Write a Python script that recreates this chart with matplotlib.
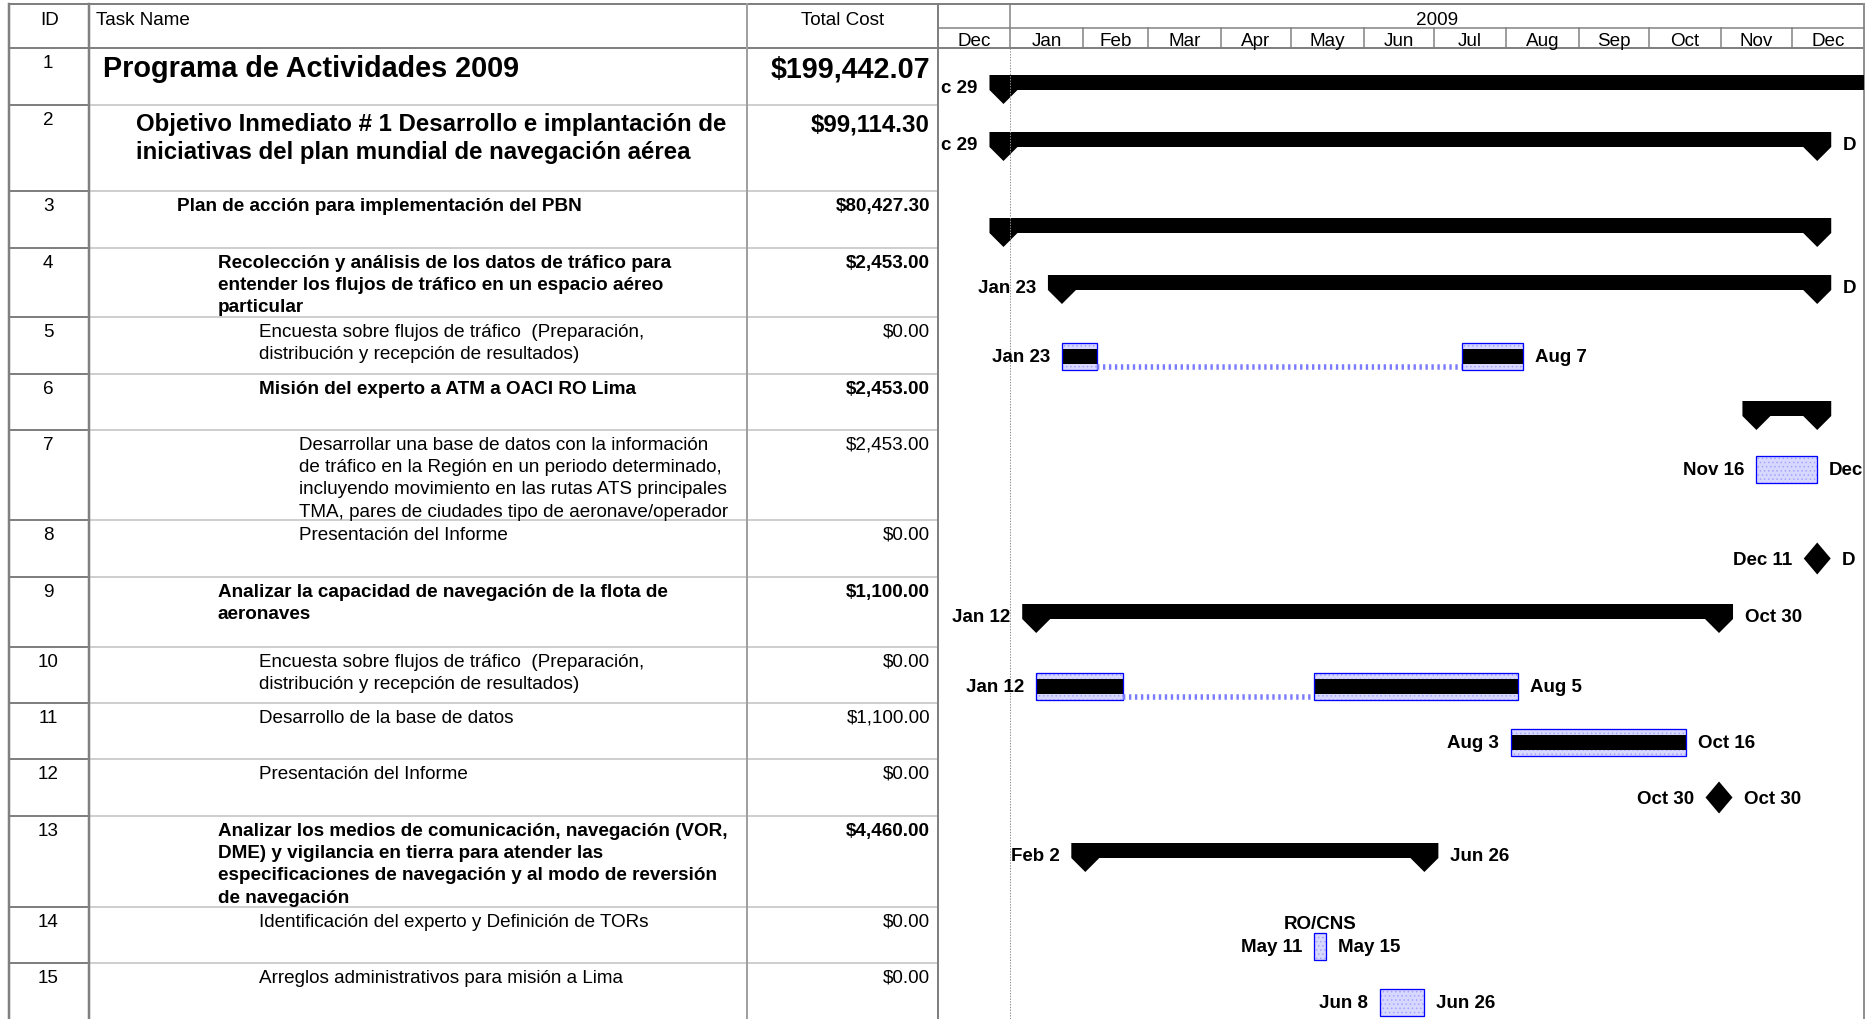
import datetime as dt
import matplotlib
matplotlib.use('Agg')
from matplotlib import pyplot as plt
from matplotlib.patches import Rectangle, Polygon
import matplotlib.dates as mdates

plt.rcParams['font.family'] = ['Liberation Sans', 'DejaVu Sans']
plt.rcParams['lines.scale_dashes'] = False
plt.rcParams['hatch.linewidth'] = 0.6

# ---- data ----
task_ids = list(range(1, 16))
task_names = [
    'Programa de Actividades 2009',
    'Objetivo Inmediato # 1 Desarrollo e implantación de\niniciativas del plan mundial de navegación aérea',
    'Plan de acción para implementación del PBN',
    'Recolección y análisis de los datos de tráfico para\nentender los flujos de tráfico en un espacio aéreo\nparticular',
    'Encuesta sobre flujos de tráfico  (Preparación,\ndistribución y recepción de resultados)',
    'Misión del experto a ATM a OACI RO Lima',
    'Desarrollar una base de datos con la información\nde tráfico en la Región en un periodo determinado,\n'
    'incluyendo movimiento en las rutas ATS principales\nTMA, pares de ciudades tipo de aeronave/operador',
    'Presentación del Informe',
    'Analizar la capacidad de navegación de la flota de\naeronaves',
    'Encuesta sobre flujos de tráfico  (Preparación,\ndistribución y recepción de resultados)',
    'Desarrollo de la base de datos',
    'Presentación del Informe',
    'Analizar los medios de comunicación, navegación (VOR,\nDME) y vigilancia en tierra para atender las\n'
    'especificaciones de navegación y al modo de reversión\nde navegación',
    'Identificación del experto y Definición de TORs',
    'Arreglos administrativos para misión a Lima',
]
total_cost = [199442.07, 99114.30, 80427.30, 2453.00, 0.00, 2453.00, 2453.00, 0.00,
              1100.00, 0.00, 1100.00, 0.00, 4460.00, 0.00, 0.00]
outline_level = [0, 1, 2, 3, 4, 4, 5, 5, 3, 4, 4, 4, 3, 4, 4]
task_type = ['summary', 'summary', 'summary', 'summary', 'task', 'summary', 'task', 'milestone',
             'summary', 'task', 'task', 'milestone', 'summary', 'task', 'task']
# (start, finish) pieces, split tasks have two of them
task_dates = [
    [('2008-12-29', '2010-06-30')],
    [('2008-12-29', '2009-12-11')],
    [('2008-12-29', '2009-12-11')],
    [('2009-01-23', '2009-12-11')],
    [('2009-01-23', '2009-02-06'), ('2009-07-13', '2009-08-07')],
    [('2009-11-16', '2009-12-11')],
    [('2009-11-16', '2009-12-11')],
    [('2009-12-11', '2009-12-11')],
    [('2009-01-12', '2009-10-30')],
    [('2009-01-12', '2009-02-17'), ('2009-05-11', '2009-08-05')],
    [('2009-08-03', '2009-10-16')],
    [('2009-10-30', '2009-10-30')],
    [('2009-02-02', '2009-06-26')],
    [('2009-05-11', '2009-05-15')],
    [('2009-06-08', '2009-06-26')],
]
pct_complete = [0, 0, 0, 0, 100, 0, 0, 0, 0, 100, 100, 0, 0, 0, 0]
# bar texts as they show on the print (the ones at the edges are cut)
left_labels = ['c 29', 'c 29', '', 'Jan 23', 'Jan 23', '', 'Nov 16', 'Dec 11',
               'Jan 12', 'Jan 12', 'Aug 3', 'Oct 30', 'Feb 2', 'May 11', 'Jun 8']
right_labels = ['', 'D', '', 'D', 'Aug 7', '', 'Dec', 'D',
                'Oct 30', 'Aug 5', 'Oct 16', 'Oct 30', 'Jun 26', 'May 15', 'Jun 26']
resource_names = [''] * 13 + ['RO/CNS', '']
timescale_months = ['Dec', 'Jan', 'Feb', 'Mar', 'Apr', 'May', 'Jun', 'Jul', 'Aug', 'Sep', 'Oct', 'Nov', 'Dec']
timescale_year = '2009'
timescale_start = dt.date(2008, 12, 1)
timescale_end = dt.date(2010, 1, 1)
column_titles = ['ID', 'Task Name', 'Total Cost']

# ---- layout (pixels) ----
W, H = 1874, 1020
row_heights = [57, 86, 57, 69, 57, 56, 90, 57, 70, 56, 56, 57, 91, 56, 60]
head_top, head_mid, head_bot = 5, 29, 49
col_x = [9, 89.5, 747, 938, 1864]
PT = 0.72  # points per pixel at dpi 100
dark, light = '#808080', '#c0c0c0'

fig = plt.figure(figsize=(W / 100, H / 100), dpi=100)
ax = fig.add_axes([0, 0, 1, 1])
ax.set_xlim(0, W)
ax.set_ylim(H, 0)
ax.axis('off')

# gantt part has its own date axis
g0, g1 = col_x[3], col_x[4]
gx = fig.add_axes([g0 / W, 0, (g1 - g0) / W, 1])
t0, t1 = mdates.date2num(timescale_start), mdates.date2num(timescale_end)
gx.set_xlim(t0, t1)
gx.set_ylim(H, 0)
gx.axis('off')
px_day = (g1 - g0) / (t1 - t0)

tops = [head_bot]
for h in row_heights[:-1]:
    tops.append(tops[-1] + h)

# table grid
for y in tops[1:]:
    ax.plot([col_x[0], col_x[1]], [y, y], color=dark, lw=2 * PT)
    ax.plot([col_x[1], col_x[3]], [y, y], color=light, lw=1.5 * PT)
ax.plot([col_x[0], col_x[4]], [head_top, head_top], color=dark, lw=2 * PT)
ax.plot([col_x[0], col_x[4]], [head_bot, head_bot], color=dark, lw=2 * PT)
ax.plot([col_x[0], col_x[0]], [head_top, H], color=dark, lw=2.5 * PT)
ax.plot([col_x[1], col_x[1]], [head_top, H], color=dark, lw=2.5 * PT)
ax.plot([col_x[2], col_x[2]], [head_top, H], color='#a0a0a0', lw=2 * PT)
ax.plot([col_x[3], col_x[3]], [head_top, H], color=dark, lw=2 * PT)
ax.plot([col_x[4], col_x[4]], [head_top, H], color='#909090', lw=2 * PT)
ax.plot([col_x[3], col_x[4]], [head_mid, head_mid], color=dark, lw=1.5 * PT)

fs = 13.6
ax.text((col_x[0] + col_x[1]) / 2, 25, column_titles[0], fontsize=fs, ha='center', va='baseline')
ax.text(96, 25, column_titles[1], fontsize=fs, ha='left', va='baseline')
ax.text((col_x[2] + col_x[3]) / 2, 25, column_titles[2], fontsize=fs, ha='center', va='baseline')

# timescale header
for k, name in enumerate(timescale_months):
    m0 = dt.date(2008 + (11 + k) // 12, (11 + k) % 12 + 1, 1)
    m1 = dt.date(2008 + (12 + k) // 12, (12 + k) % 12 + 1, 1)
    a, b = mdates.date2num(m0), mdates.date2num(m1)
    if k > 0:
        y_from = head_top if m0.month == 1 else head_mid
        gx.plot([a, a], [y_from, head_bot], color=dark, lw=1.5 * PT)
    gx.text((a + b) / 2, 45.5, name, fontsize=fs, ha='center', va='baseline')
jan1 = mdates.date2num(dt.date(int(timescale_year), 1, 1))
gx.text((jan1 + t1) / 2, 25, timescale_year, fontsize=fs, ha='center', va='baseline')
gx.plot([jan1, jan1], [head_bot, H], color='#909090', lw=1 * PT, dashes=(1, 1))

# text styles: size, baseline offset, line step
styles = {'title': (20.7, 28, 0), 'objective': (17.3, 25.5, 27.5), 'plain': (fs, 19, 22.2)}

for i in range(len(task_ids)):
    top = tops[i]
    style = 'title' if i == 0 else ('objective' if i == 1 else 'plain')
    size, base, step = styles[style]
    bold = 'bold' if task_type[i] == 'summary' else 'normal'
    ax.text((col_x[0] + col_x[1]) / 2 - 1, top + 19, str(task_ids[i]), fontsize=fs, ha='center', va='baseline')
    x_name = 95.5 + 40.8 * outline_level[i] + (8 if outline_level[i] == 0 else 0)
    for j, line in enumerate(task_names[i].split('\n')):
        ax.text(x_name, top + base + j * step, line, fontsize=size, fontweight=bold, va='baseline')
    ax.text(930, top + base, f'${total_cost[i]:,.2f}', fontsize=size, fontweight=bold,
            ha='right', va='baseline')

    # bars
    pieces = [(mdates.datestr2num(a), mdates.datestr2num(b) + 1) for a, b in task_dates[i]]
    first, last = pieces[0][0], pieces[-1][1]
    kind = task_type[i]
    if kind == 'summary':
        hw = 14 / px_day
        gx.add_patch(Rectangle((first, top + 27), last - first, 15, color='black', lw=0))
        for x in (first, last):
            gx.add_patch(Polygon([(x - hw, top + 27), (x + hw, top + 27), (x + hw, top + 42),
                                  (x, top + 56), (x - hw, top + 42)], closed=True, color='black', lw=0))
        edge = 14
    elif kind == 'milestone':
        first = last
        hw = 13.5 / px_day
        gx.add_patch(Polygon([(last, top + 22.5), (last + hw, top + 38.5), (last, top + 54.5),
                              (last - hw, top + 38.5)], closed=True, color='black', lw=0))
        edge = 13
    else:
        for a, b in pieces:
            gx.add_patch(Rectangle((a, top + 26), b - a, 27, facecolor='#d8d8ff', edgecolor='#a4a4ff',
                                   hatch='....', lw=0))
            if pct_complete[i] > 0:
                gx.add_patch(Rectangle((a, top + 32), (b - a) * pct_complete[i] / 100, 15,
                                       color='black', lw=0))
            gx.add_patch(Rectangle((a, top + 26), b - a, 27, fill=False, edgecolor='#0000ff', lw=1.3 * PT))
        for (a0, b0), (a1, b1) in zip(pieces[:-1], pieces[1:]):
            gx.plot([b0, a1], [top + 50.3, top + 50.3], color='#7b7bff', lw=5.5 * PT,
                    dashes=(1.7, 2.6), solid_capstyle='butt', dash_capstyle='butt')
        edge = 0

    off = (edge + 12) * PT
    if left_labels[i]:
        gx.annotate(left_labels[i], xy=(first, top + 44), xytext=(-off, 0), textcoords='offset points',
                    fontsize=13.5, fontweight='bold', ha='right', va='baseline', annotation_clip=False)
    if right_labels[i]:
        gx.annotate(right_labels[i], xy=(last, top + 44), xytext=(off, 0), textcoords='offset points',
                    fontsize=13.5, fontweight='bold', ha='left', va='baseline', annotation_clip=False)
    if resource_names[i]:
        gx.text((first + last) / 2, top + 21.5, resource_names[i], fontsize=13.5, fontweight='bold',
                ha='center', va='baseline')

fig.savefig('out.png', dpi=100)
